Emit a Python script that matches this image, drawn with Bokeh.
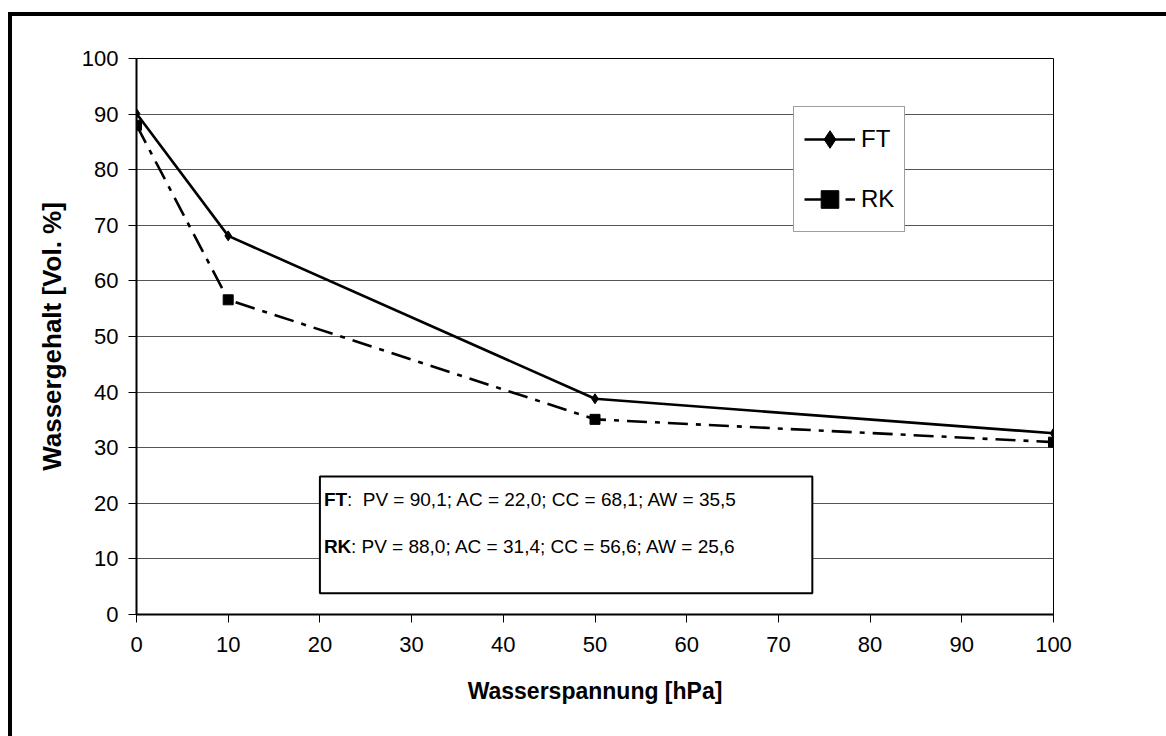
from bokeh.plotting import figure
from bokeh.models import (Range1d, BoxAnnotation, Label, Legend, LegendItem,
                          FixedTicker, InlineStyleSheet)
from bokeh.embed import file_html
from bokeh.resources import INLINE

# Water retention: water content [Vol. %] against water tension [hPa]
pressure = [0, 10, 50, 100]
ft_water = [90.1, 68.1, 38.8, 32.6]
rk_water = [88.0, 56.6, 35.1, 31.0]

x_ticks = [0, 10, 20, 30, 40, 50, 60, 70, 80, 90, 100]
y_ticks = [0, 10, 20, 30, 40, 50, 60, 70, 80, 90, 100]

# Pore volume, air capacity, field capacity and available water
stat_names = ["PV", "AC", "CC", "AW"]
ft_stats = [90.1, 22.0, 68.1, 35.5]
rk_stats = [88.0, 31.4, 56.6, 25.6]

FONT = "Liberation Sans"

p = figure(width=1166, height=736, output_backend="svg", toolbar_location=None,
           x_range=Range1d(0, 100), y_range=Range1d(0, 100),
           min_border_left=136, min_border_right=113,
           min_border_top=58, min_border_bottom=122)
p.background_fill_color = "white"
p.border_fill_color = "white"
p.outline_line_color = "black"
p.outline_line_width = 1

p.xgrid.visible = False
p.ygrid.grid_line_color = "#555555"
p.ygrid.grid_line_width = 1

p.xaxis.ticker = FixedTicker(ticks=x_ticks)
p.yaxis.ticker = FixedTicker(ticks=y_ticks)
for ax in (p.xaxis[0], p.yaxis[0]):
    ax.axis_line_color = "black"
    ax.axis_line_width = 2
    ax.major_tick_line_color = "black"
    ax.major_tick_line_width = 1
    ax.major_tick_in = 0
    ax.major_tick_out = 8
    ax.minor_tick_line_color = None
    ax.major_label_text_font = FONT
    ax.major_label_text_font_size = "22px"
    ax.major_label_text_color = "black"
    ax.axis_label_text_font = FONT
    ax.axis_label_text_font_style = "bold"
    ax.axis_label_text_color = "black"

p.xaxis.axis_label = "Wasserspannung [hPa]"
p.yaxis.axis_label = "Wassergehalt [Vol. %]"
p.xaxis.axis_label_text_font_size = "23px"
p.yaxis.axis_label_text_font_size = "26px"
p.xaxis.major_label_standoff = 14
p.xaxis.axis_label_standoff = 23
p.yaxis.major_label_standoff = 10
p.yaxis.axis_label_standoff = 12

# Series
ft_line = p.line(pressure, ft_water, line_color="black", line_width=2.6)
ft_pts = p.scatter(pressure, ft_water, marker="diamond", size=10,
                   fill_color="black", line_color="black")
rk_line = p.line(pressure, rk_water, line_color="black", line_width=2.6,
                 line_dash="20 8 5 8")
rk_pts = p.scatter(pressure, rk_water, marker="square", size=10,
                   fill_color="black", line_color="black")

legend = Legend(items=[LegendItem(label="FT", renderers=[ft_line, ft_pts]),
                       LegendItem(label="RK", renderers=[rk_line, rk_pts])],
                location=(657, 382))
legend.label_text_font = FONT
legend.label_text_font_size = "24px"
legend.label_text_color = "black"
legend.label_height = 44
legend.glyph_height = 44
legend.glyph_width = 51
legend.label_standoff = 6
legend.spacing = 16
legend.padding = 10
legend.margin = 0
legend.border_line_color = "#404040"
legend.border_line_width = 1
legend.background_fill_color = "white"
legend.background_fill_alpha = 1
p.add_layout(legend, "center")

# Summary box
p.add_layout(BoxAnnotation(left=20, right=73.7, top=24.8, bottom=3.8,
                           fill_color="white", fill_alpha=1,
                           line_color="black", line_alpha=1, line_width=2))


def fmt(v):
    return f"{v:.1f}".replace(".", ",")


def stat_text(vals, gap):
    parts = [f"{n} = {fmt(v)}" for n, v in zip(stat_names, vals)]
    return ":" + gap + "; ".join(parts)


box_font_size = "19px"
rows = [("FT", ft_stats, "\u00a0\u00a0", 20.7, 23),
        ("RK", rk_stats, "\u00a0", 12.2, 27)]
for name, vals, gap, yy, bold_w in rows:
    p.add_layout(Label(x=20, y=yy, x_offset=4, text=name,
                       text_font=FONT, text_font_size=box_font_size,
                       text_font_style="bold", text_baseline="middle",
                       text_color="black"))
    p.add_layout(Label(x=20, y=yy, x_offset=4 + bold_w, text=stat_text(vals, gap),
                       text_font=FONT, text_font_size=box_font_size,
                       text_baseline="middle", text_color="black"))

# Outer chart frame (its right and bottom edges run off the page)
p.stylesheets = [InlineStyleSheet(css="""
:host { position: relative; }
:host::after {
  content: "";
  position: absolute;
  left: 8px; top: 12px; right: 0; bottom: 0;
  border-left: 4px solid black;
  border-top: 4px solid black;
  pointer-events: none;
}
""")]

open("out.html", "w").write(file_html(p, INLINE))
